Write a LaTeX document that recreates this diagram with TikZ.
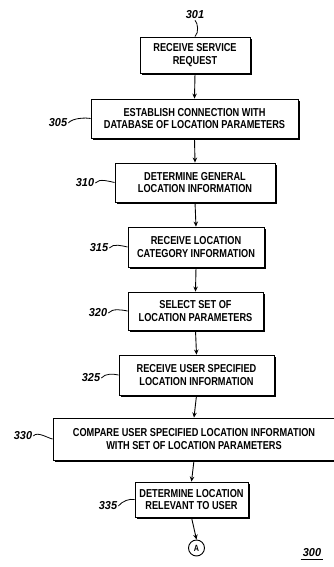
\documentclass[tikz,border=0pt]{standalone}
\usepackage{fontspec}
\newfontfamily\boxfont{Liberation Sans}[FakeStretch=0.80]
\newfontfamily\numfont{Liberation Sans}[FakeStretch=0.95]
\usetikzlibrary{arrows.meta,shadows}
\begin{document}
\begin{tikzpicture}[x=1pt,y=-1pt,
  stepbox/.style={draw=black, line width=0.9pt, fill=white, inner sep=0pt,
    align=center, font=\boxfont\bfseries\fontsize{11.5}{12.5}\selectfont,
    drop shadow={shadow xshift=1.8pt, shadow yshift=-1.8pt, fill=black, opacity=1}},
  refnum/.style={font=\numfont\bfseries\itshape\fontsize{11.5}{12}\selectfont, inner sep=1pt},
  flow/.style={line width=0.9pt, -{Stealth[length=5pt,width=4.5pt]}},
  leader/.style={line width=0.8pt}]
\useasboundingbox (0,0) rectangle (334,567);
\fill[white] (0,0) rectangle (334,567);

\node[stepbox, minimum width=110pt, minimum height=36pt] (b301) at (195,55) {RECEIVE SERVICE\\REQUEST};
\node[stepbox, minimum width=207pt, minimum height=39pt] (b305) at (194.5,118.5) {ESTABLISH CONNECTION WITH\\DATABASE OF LOCATION PARAMETERS};
\node[stepbox, minimum width=160pt, minimum height=39pt] (b310) at (195,182.5) {DETERMINE GENERAL\\LOCATION INFORMATION};
\node[stepbox, minimum width=136pt, minimum height=40pt] (b315) at (196,247) {RECEIVE LOCATION\\CATEGORY INFORMATION};
\node[stepbox, minimum width=135pt, minimum height=38pt] (b320) at (195.5,311) {SELECT SET OF\\LOCATION PARAMETERS};
\node[stepbox, minimum width=155pt, minimum height=40pt] (b325) at (196.5,375) {RECEIVE USER SPECIFIED\\LOCATION INFORMATION};
\node[stepbox, minimum width=282pt, minimum height=42pt] (b330) at (194,439) {COMPARE USER SPECIFIED LOCATION INFORMATION\\WITH SET OF LOCATION PARAMETERS};
\node[stepbox, minimum width=113pt, minimum height=35pt] (b335) at (191.5,499.5) {DETERMINE LOCATION\\RELEVANT TO USER};
\node[draw, circle, line width=0.9pt, minimum size=16pt, inner sep=0pt,
  font=\boxfont\bfseries\fontsize{9}{10}\selectfont] (conA) at (196.5,548) {A};

\draw[flow] (b301.south) -- (b305.north);
\draw[flow] (b305.south) -- (b310.north);
\draw[flow] (b310.south) -- (b315.north);
\draw[flow] (b315.south) -- (b320.north);
\draw[flow] (b320.south) -- (b325.north);
\draw[flow] (b325.south) -- (b330.north);
\draw[flow] (b330.south) -- (b335.north);
\draw[flow] (b335.south) -- (conA.north);

\node[refnum] (l301) at (195,15) {301};
\node[refnum] (l305) at (58,123) {305};
\node[refnum] (l310) at (85,183) {310};
\node[refnum] (l315) at (99,248) {315};
\node[refnum] (l320) at (98,313) {320};
\node[refnum] (l325) at (91,378) {325};
\node[refnum] (l330) at (23,436) {330};
\node[refnum] (l335) at (108,506) {335};
\node[refnum] (l300) at (312,553) {300};
\coordinate (u1) at ([xshift=-1pt,yshift=-1.5pt]l300.south west);
\coordinate (u2) at ([xshift=1pt,yshift=-1.5pt]l300.south east);
\draw[line width=0.8pt] (u1) -- (u2);

\draw[leader] (l301.south) .. controls +(3,3) and +(4,-4) .. (b301.north);
\draw[leader] (l305.east) .. controls +(4,-5) and +(-5,-1) .. (b305.west);
\draw[leader] (l310.east) .. controls +(4,-5) and +(-5,-1) .. (b310.west);
\draw[leader] (l315.east) .. controls +(4,-5) and +(-5,-1) .. (b315.west);
\draw[leader] (l320.east) .. controls +(4,-5) and +(-5,-1) .. (b320.west);
\draw[leader] (l325.east) .. controls +(4,-5) and +(-5,-1) .. (b325.west);
\draw[leader] (l330.east) .. controls +(4,-5) and +(-5,-1) .. (b330.west);
\draw[leader] (l335.east) .. controls +(4,-5) and +(-5,-1) .. (b335.west);
\end{tikzpicture}
\end{document}
